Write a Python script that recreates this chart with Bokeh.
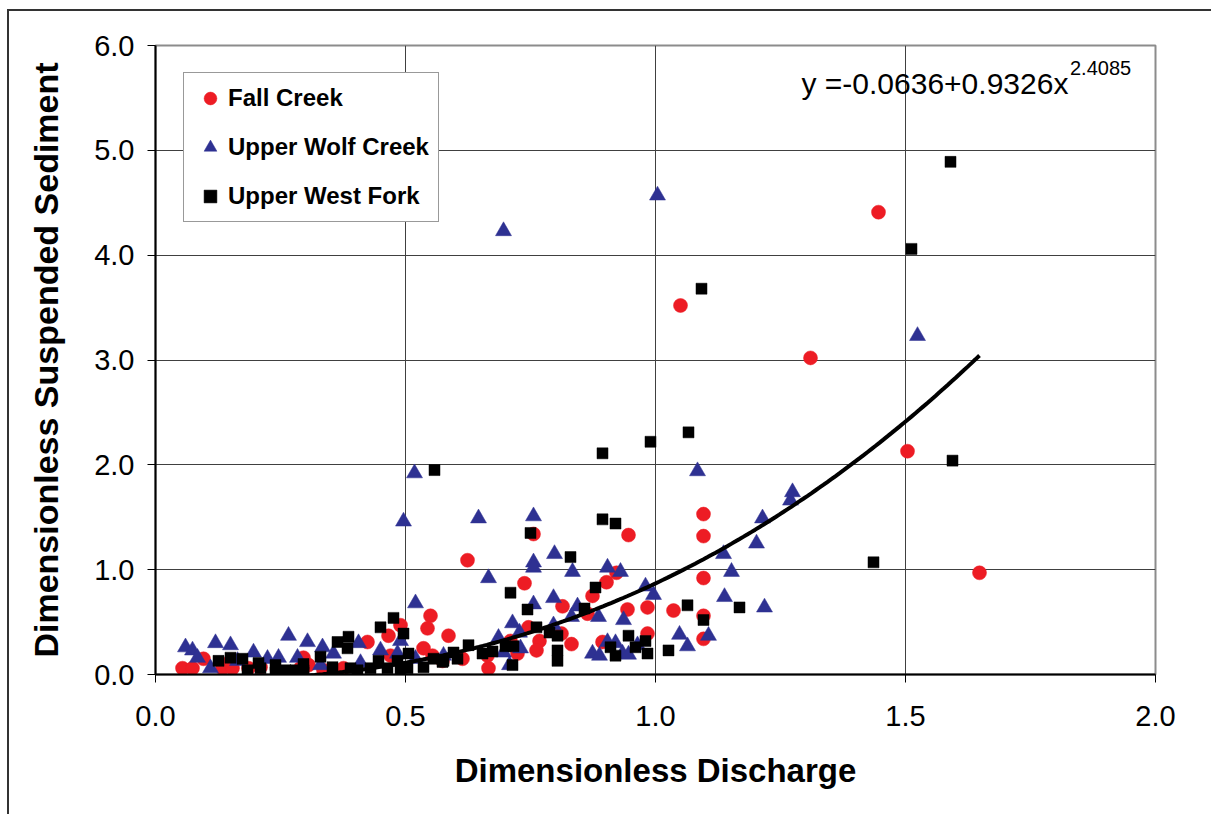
import numpy as np
from bokeh.plotting import figure
from bokeh.models import (ColumnDataSource, FixedTicker, NumeralTickFormatter,
                          Legend, LegendItem, Label, Range1d)
from bokeh.embed import file_html
from bokeh.resources import INLINE

# ---- data: dimensionless discharge (x) vs dimensionless suspended sediment (y)
fall_x = [1.446, 1.05, 1.31, 1.504, 1.648, 1.096, 1.096, 1.096, 0.946, 0.624,
          0.756, 0.922, 0.902, 0.738, 0.874, 0.814, 0.864, 0.944, 0.984, 1.036,
          1.096, 1.096, 0.984, 0.746, 0.768, 0.812, 0.832, 0.762, 0.724, 0.71,
          0.894, 0.586, 0.614, 0.666, 0.664, 0.574,
          0.054, 0.074, 0.096, 0.134, 0.154, 0.186, 0.21, 0.296, 0.15,
          0.55, 0.544, 0.49, 0.466, 0.424, 0.536, 0.47, 0.376, 0.336, 0.29,
          0.554, 0.306]
fall_y = [4.41, 3.52, 3.02, 2.13, 0.97, 1.53, 1.32, 0.92, 1.33, 1.09,
          1.34, 0.97, 0.88, 0.87, 0.75, 0.65, 0.58, 0.62, 0.64, 0.61,
          0.56, 0.34, 0.39, 0.45, 0.32, 0.39, 0.29, 0.23, 0.20, 0.32,
          0.31, 0.37, 0.15, 0.06, 0.18, 0.13,
          0.06, 0.06, 0.15, 0.06, 0.06, 0.06, 0.07, 0.16, 0.13,
          0.56, 0.44, 0.47, 0.37, 0.31, 0.25, 0.18, 0.06, 0.04, 0.06,
          0.18, 0.09]

wolf_x = [1.004, 0.696, 1.524, 0.518, 0.496, 0.646, 0.756, 1.084, 1.27, 1.274,
          1.214, 1.202, 1.136, 1.152, 1.138, 1.218, 1.106,
          0.666, 0.798, 0.756, 0.756, 0.834, 0.904, 0.93, 0.98, 0.996,
          1.048, 1.064, 0.756, 0.796, 0.832, 0.844, 0.886, 0.936, 0.714, 0.728,
          0.686, 0.796, 0.73, 0.696, 0.874, 0.888, 0.904, 0.92, 0.934, 0.946,
          0.964, 0.708, 0.576,
          0.06, 0.074, 0.084, 0.12, 0.15, 0.11, 0.164, 0.196, 0.224, 0.246,
          0.266, 0.304, 0.284,
          0.52, 0.334, 0.356, 0.406, 0.45, 0.41, 0.49, 0.484, 0.52, 0.33]
wolf_y = [4.57, 4.23, 3.23, 1.92, 1.46, 1.49, 1.51, 1.94, 1.66, 1.74,
          1.49, 1.25, 1.15, 0.98, 0.74, 0.64, 0.37,
          0.92, 1.15, 1.07, 1.02, 0.98, 1.02, 0.98, 0.84, 0.76,
          0.38, 0.27, 0.67, 0.73, 0.55, 0.65, 0.55, 0.52, 0.49, 0.40,
          0.35, 0.47, 0.25, 0.21, 0.20, 0.18, 0.31, 0.30, 0.20, 0.19,
          0.28, 0.09, 0.18,
          0.26, 0.23, 0.16, 0.30, 0.28, 0.06, 0.13, 0.21, 0.15, 0.16,
          0.37, 0.31, 0.16,
          0.68, 0.26, 0.20, 0.30, 0.23, 0.11, 0.32, 0.20, 0.15, 0.09]

west_x = [1.59, 1.512, 1.092, 1.066, 0.99, 0.894, 0.558, 1.594, 1.436, 0.894,
          0.92, 0.75, 0.83, 1.168, 1.064, 1.096,
          0.71, 0.88, 0.858, 0.744, 0.762, 0.788, 0.804, 0.804, 0.804, 0.626,
          0.596, 0.604, 0.574, 0.654, 0.674, 0.70, 0.716, 0.714, 0.946, 0.98,
          0.91, 0.92, 0.96, 0.984, 1.026,
          0.126, 0.15, 0.174, 0.184, 0.206, 0.21, 0.24, 0.24, 0.26, 0.28, 0.296,
          0.476, 0.45, 0.496, 0.386, 0.364, 0.384, 0.33, 0.506, 0.536, 0.556,
          0.576, 0.296, 0.296, 0.354, 0.39, 0.404, 0.43, 0.446, 0.464, 0.484,
          0.49, 0.504]
west_y = [4.89, 4.06, 3.68, 2.31, 2.22, 2.11, 1.95, 2.04, 1.07, 1.48,
          1.44, 1.35, 1.12, 0.64, 0.66, 0.52,
          0.78, 0.83, 0.63, 0.62, 0.45, 0.40, 0.37, 0.23, 0.13, 0.28,
          0.21, 0.15, 0.12, 0.20, 0.22, 0.27, 0.27, 0.09, 0.37, 0.32,
          0.26, 0.18, 0.26, 0.20, 0.23,
          0.13, 0.16, 0.15, 0.04, 0.11, 0.06, 0.09, 0.02, 0.04, 0.04, 0.04,
          0.54, 0.45, 0.39, 0.36, 0.31, 0.25, 0.17, 0.20, 0.07, 0.15,
          0.13, 0.10, 0.02, 0.07, 0.06, 0.04, 0.06, 0.13, 0.06, 0.13,
          0.04, 0.06]

# power-law trend: y = a + b * x^c
fit_a, fit_b, fit_c = -0.0636, 0.9326, 2.4085

x_ticks = [0.0, 0.5, 1.0, 1.5, 2.0]
y_ticks = [0, 1, 2, 3, 4, 5, 6]

FONT = "Liberation Sans"
RED = "#ed1c24"
NAVY = "#2e3192"

p = figure(width=1211, height=814, output_backend="svg", toolbar_location=None,
           x_range=Range1d(0, 2), y_range=Range1d(0, 6),
           min_border_left=155, min_border_right=56,
           min_border_top=45, min_border_bottom=140)

p.border_fill_color = None
p.background_fill_color = "white"
p.outline_line_color = "#8c8c8c"
p.outline_line_width = 2
# frame lines along the top and left of the chart area
p.styles = {
    "background": ("linear-gradient(#333,#333) 7px 9px / 2px 820px no-repeat, "
                   "linear-gradient(#333,#333) 7px 9px / 1210px 2px no-repeat, #fff")
}

# axes
for ax in (p.xaxis[0], p.yaxis[0]):
    ax.axis_line_color = "black"
    ax.axis_line_width = 2
    ax.major_tick_line_color = "black"
    ax.major_tick_line_width = 1
    ax.major_tick_in = 0
    ax.major_tick_out = 8
    ax.minor_tick_line_color = None
    ax.major_label_text_font = FONT
    ax.major_label_text_font_size = "29px"
    ax.major_label_text_color = "black"
    ax.axis_label_text_font = FONT
    ax.axis_label_text_font_style = "bold"
    ax.axis_label_text_color = "black"
    ax.formatter = NumeralTickFormatter(format="0.0")

p.xaxis.ticker = FixedTicker(ticks=x_ticks)
p.yaxis.ticker = FixedTicker(ticks=y_ticks)
p.xaxis.axis_label = "Dimensionless Discharge"
p.yaxis.axis_label = "Dimensionless Suspended Sediment"
p.xaxis.axis_label_text_font_size = "33px"
p.yaxis.axis_label_text_font_size = "34px"
p.xaxis.major_label_standoff = 23
p.yaxis.major_label_standoff = 13
p.xaxis.axis_label_standoff = 23
p.yaxis.axis_label_standoff = 26

p.xgrid.ticker = FixedTicker(ticks=x_ticks)
p.ygrid.ticker = FixedTicker(ticks=y_ticks)
for g in (p.xgrid[0], p.ygrid[0]):
    g.grid_line_color = "#404040"
    g.grid_line_width = 1

# scatter series
src_fall = ColumnDataSource(dict(x=fall_x, y=fall_y))
src_wolf = ColumnDataSource(dict(x=wolf_x, y=wolf_y))
src_west = ColumnDataSource(dict(x=west_x, y=west_y))

r_fall = p.scatter("x", "y", source=src_fall, marker="circle", size=14,
                   fill_color=RED, line_color=RED, line_width=0.5)
r_wolf = p.scatter("x", "y", source=src_wolf, marker="triangle", size=16,
                   fill_color=NAVY, line_color=NAVY, line_width=0.5)
r_west = p.scatter("x", "y", source=src_west, marker="square", size=11,
                   fill_color="black", line_color="black", line_width=0.5)

# trend curve over the range of the observations
all_x = np.array(fall_x + wolf_x + west_x)
tx = np.linspace(all_x.min(), all_x.max(), 200)
ty = fit_a + fit_b * tx ** fit_c
p.line(tx, ty, line_color="black", line_width=4)

# equation of the trend
p.add_layout(Label(x=1.292, y=5.64, text="y =-0.0636+0.9326x",
                   text_font=FONT, text_font_size="30px", text_color="black",
                   text_baseline="alphabetic"))
p.add_layout(Label(x=1.829, y=5.785, text="2.4085",
                   text_font=FONT, text_font_size="20px", text_color="black",
                   text_baseline="alphabetic"))

legend = Legend(items=[LegendItem(label="Fall Creek", renderers=[r_fall]),
                       LegendItem(label="Upper Wolf Creek", renderers=[r_wolf]),
                       LegendItem(label="Upper West Fork", renderers=[r_west])],
                location=(28, 452))
legend.label_text_font = FONT
legend.label_text_font_size = "24px"
legend.label_text_font_style = "bold"
legend.label_text_color = "black"
legend.label_height = 32
legend.glyph_height = 32
legend.glyph_width = 34
legend.label_standoff = 1
legend.spacing = 17
legend.padding = 9
legend.margin = 0
legend.border_line_color = "#333333"
legend.border_line_width = 1
legend.background_fill_color = "white"
legend.background_fill_alpha = 1
p.add_layout(legend)

open("out.html", "w").write(file_html(p, INLINE))
